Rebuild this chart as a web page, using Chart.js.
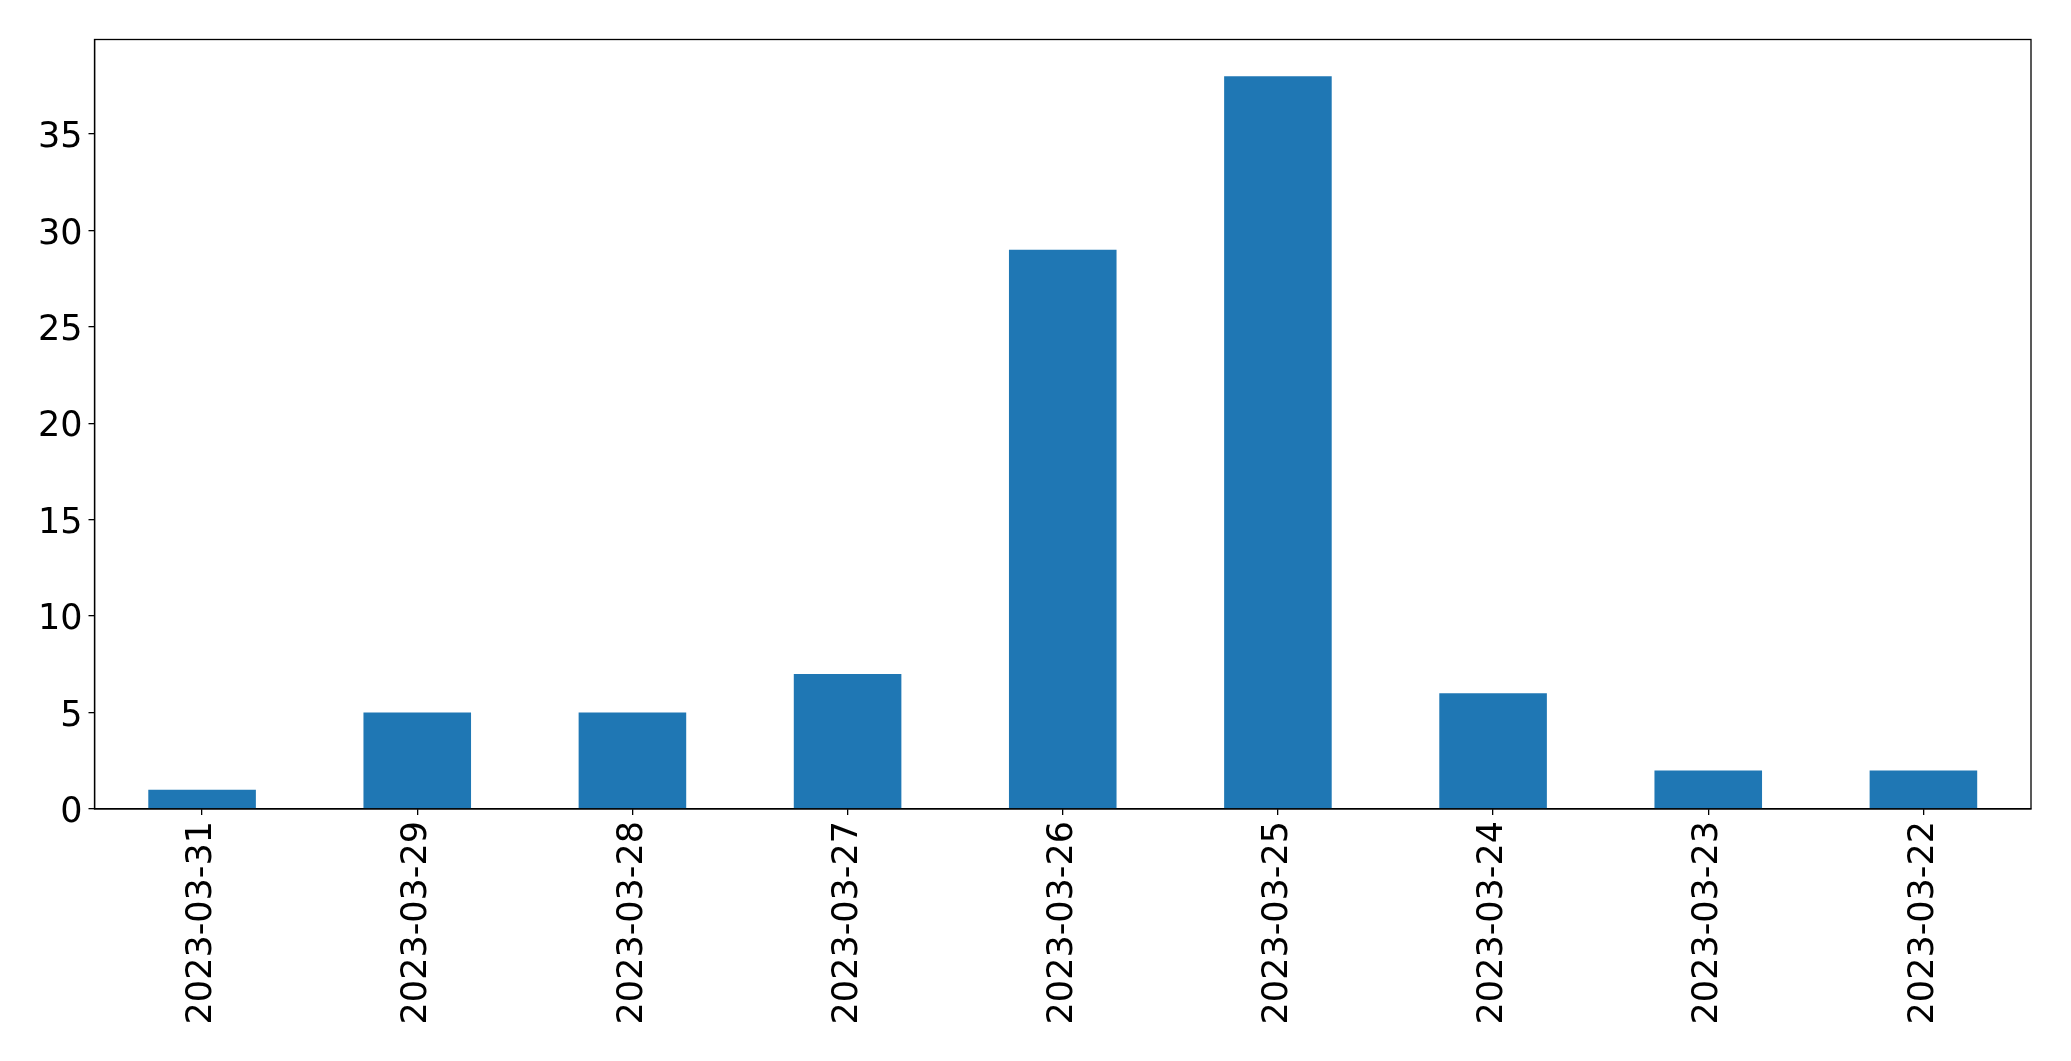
<!DOCTYPE html>
<html>
<head>
<meta charset="utf-8">
<script src="https://cdn.jsdelivr.net/npm/chart.js@4/dist/chart.umd.min.js"></script>
<style>
  html, body { margin: 0; padding: 0; background: #fff; }
  #wrap { width: 2071px; height: 1061px; }
</style>
</head>
<body>
<div id="wrap"><canvas id="myChart" width="2071" height="1061"></canvas></div>
<script>
const dates = ['2023-03-31', '2023-03-29', '2023-03-28', '2023-03-27', '2023-03-26',
               '2023-03-25', '2023-03-24', '2023-03-23', '2023-03-22'];
const counts = [1, 5, 5, 7, 29, 38, 6, 2, 2];
const yTicks = [0, 5, 10, 15, 20, 25, 30, 35];

const tickFont = { family: 'DejaVu Sans', size: 35 };

// draw the full box round the plot area, like matplotlib does
const frameBox = {
    id: 'frameBox',
    afterDraw(chart) {
        const { ctx, chartArea } = chart;
        ctx.save();
        ctx.strokeStyle = '#000';
        ctx.lineWidth = 1.3;
        ctx.strokeRect(chartArea.left, chartArea.top,
                       chartArea.right - chartArea.left, chartArea.bottom - chartArea.top);
        ctx.restore();
    }
};

new Chart(document.getElementById('myChart'), {
    type: 'bar',
    data: {
        labels: dates,
        datasets: [{
            data: counts,
            backgroundColor: '#1f77b4',
            borderWidth: 0,
            categoryPercentage: 1.0,
            barPercentage: 0.5
        }]
    },
    options: {
        responsive: false,
        animation: false,
        layout: { padding: { top: 39.5, right: 40, left: 0, bottom: 0 } },
        plugins: {
            legend: { display: false },
            tooltip: { enabled: false }
        },
        scales: {
            x: {
                offset: true,
                grid: { display: true, offset: false, drawOnChartArea: false, tickLength: 6, color: '#000', lineWidth: 1.3 },
                border: { display: true, color: '#000', width: 1.3 },
                ticks: {
                    font: tickFont, color: '#000',
                    minRotation: 90, maxRotation: 90,
                    padding: 6, autoSkip: false
                },
                afterFit(scale) { scale.height = 252; }
            },
            y: {
                min: 0,
                max: 39.9,
                grid: { display: true, drawOnChartArea: false, tickLength: 6, color: '#000', lineWidth: 1.3 },
                border: { display: true, color: '#000', width: 1.3 },
                ticks: {
                    font: tickFont, color: '#000',
                    stepSize: 5, includeBounds: false, padding: 6, labelOffset: 4
                },
                afterBuildTicks(scale) {
                    scale.ticks = yTicks.map(v => ({ value: v }));
                },
                afterFit(scale) { scale.width = 94.5; }
            }
        }
    },
    plugins: [frameBox]
});
</script>
</body>
</html>
